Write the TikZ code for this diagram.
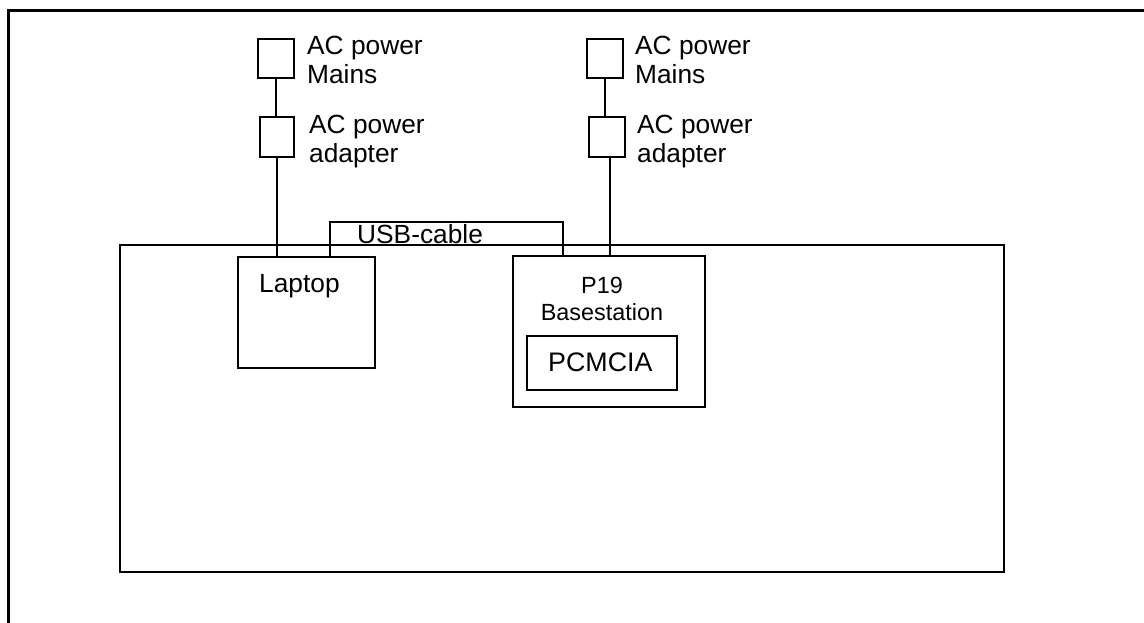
\documentclass[tikz,border=0pt]{standalone}
\usepackage{fontspec}
\setmainfont{Liberation Sans}
\begin{document}
\begin{tikzpicture}[x=1pt,y=-1pt,
  box/.style={draw,line width=1.7pt,minimum width=#1,inner sep=0pt},
  lbl/.style={anchor=base west,inner sep=0pt,font=\fontsize{26.3}{30}\selectfont},
  clbl/.style={anchor=base,inner sep=0pt,font=\fontsize{23.4}{27}\selectfont},
  wire/.style={line width=1.7pt}]
\useasboundingbox (0,0) rectangle (1144,623);
% outer frame (top and left only)
\coordinate (f1) at (8,623);
\coordinate (f2) at (8,11);
\coordinate (f3) at (1144,11);
\draw[line width=3pt] (f1) -- (f2) -- (f3);
% big enclosure
\node[draw,line width=1.9pt,minimum width=884pt,minimum height=327pt,inner sep=0pt] (room) at (562,408.5) {};
% boxes
\node[box=36pt,minimum height=39pt] (mainsL) at (276,58.5) {};
\node[box=34pt,minimum height=40pt] (adapL) at (277,137) {};
\node[box=36pt,minimum height=39pt] (mainsR) at (605,58.5) {};
\node[box=36pt,minimum height=40pt] (adapR) at (607,137) {};
\node[box=137pt,minimum height=111pt] (laptop) at (306.5,312.5) {};
\node[box=192pt,minimum height=151pt] (base) at (609,331.5) {};
\node[box=150pt,minimum height=54pt] (pcmcia) at (602,363) {};
% labels
\node[lbl] (tML1) at (307,55) {AC power};
\node[lbl] (tML2) at (307,84) {Mains};
\node[lbl] (tAL1) at (309,134) {AC power};
\node[lbl] (tAL2) at (309,163) {adapter};
\node[lbl] (tMR1) at (635,55) {AC power};
\node[lbl] (tMR2) at (635,84) {Mains};
\node[lbl] (tAR1) at (637,134) {AC power};
\node[lbl] (tAR2) at (637,163) {adapter};
\node[lbl] (tUSB) at (357,243) {USB-cable};
\node[lbl] (tLap) at (259,292) {Laptop};
\node[clbl] (tP19) at (602,293) {P19};
\node[clbl] (tBase) at (602,320) {Basestation};
\node[lbl,font=\fontsize{26.8}{30}\selectfont] (tPC) at (548,371) {PCMCIA};
% connectors
\draw[wire] (mainsL.south) -- (mainsL.south |- adapL.north);
\draw[wire] (adapL.south) -- (adapL.south |- laptop.north);
\draw[wire] (mainsR.south) -- (mainsR.south |- adapR.north);
\draw[wire] ([xshift=3pt]adapR.south) -- ([xshift=3pt]adapR.south |- base.north);
\coordinate (u1) at (330,222);
\coordinate (u2) at (563,222);
\draw[wire] (u1 |- laptop.north) -- (u1) -- (u2) -- (u2 |- base.north);
\end{tikzpicture}
\end{document}
